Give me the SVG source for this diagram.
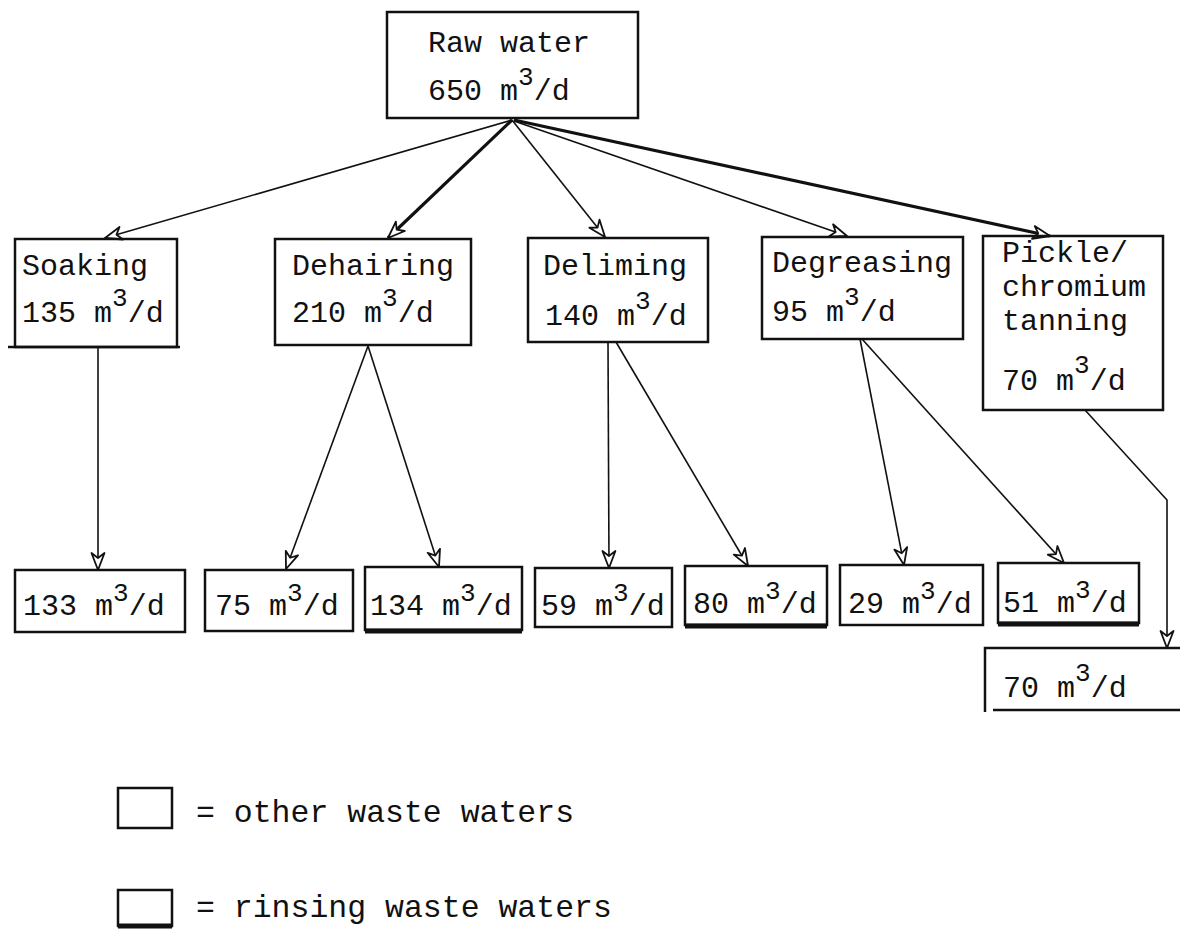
<svg xmlns="http://www.w3.org/2000/svg" width="1180" height="930" viewBox="0 0 1180 930">
<style>
.t{font-family:"Liberation Mono","DejaVu Sans Mono",monospace;font-size:30px;fill:#111}
.s{font-size:26px}
.lg{font-size:31.5px}
.box{fill:none;stroke:#111;stroke-width:2.5}
.c{fill:none;stroke:#111;stroke-width:1.6}
.ck{stroke-width:3.2}
.rb{fill:none;stroke:#111;stroke-width:5}
</style>
<defs>
<marker id="a" markerUnits="userSpaceOnUse" markerWidth="22" markerHeight="18" refX="19" refY="9" orient="auto">
<path d="M2,2.5 L19,9 L2,15.5 L7,9 z" fill="#fff" stroke="#111" stroke-width="1.8" stroke-linejoin="round"/>
</marker>
</defs>
<rect width="1180" height="930" fill="#fff"/>

<g id="connectors">
<line class="c" x1="512" y1="120" x2="105" y2="238" marker-end="url(#a)"/>
<line class="c ck" x1="512" y1="120" x2="388" y2="238" marker-end="url(#a)"/>
<line class="c" x1="512" y1="120" x2="605" y2="237" marker-end="url(#a)"/>
<line class="c" x1="514" y1="121" x2="847" y2="236" marker-end="url(#a)"/>
<line class="c ck" x1="514" y1="120" x2="1050" y2="236" marker-end="url(#a)"/>
<line class="c" x1="98" y1="347" x2="98" y2="570" marker-end="url(#a)"/>
<line class="c" x1="368" y1="346" x2="286" y2="569" marker-end="url(#a)"/>
<line class="c" x1="368" y1="346" x2="439" y2="567" marker-end="url(#a)"/>
<line class="c" x1="608" y1="342" x2="609" y2="568" marker-end="url(#a)"/>
<line class="c" x1="616" y1="342" x2="748" y2="566" marker-end="url(#a)"/>
<line class="c" x1="860" y1="339" x2="904" y2="565" marker-end="url(#a)"/>
<line class="c" x1="862" y1="339" x2="1064" y2="563" marker-end="url(#a)"/>
<polyline class="c" points="1085,410 1167,500 1167,648" marker-end="url(#a)"/>
</g>

<g id="raw-water">
<rect class="box" x="387" y="12" width="251" height="106"/>
<text class="t" x="428" y="52">Raw water</text>
<text class="t" x="428" y="100">650 m<tspan class="s" dy="-15">3</tspan><tspan dy="15">/d</tspan></text>
</g>

<g id="soaking">
<rect class="box" x="15" y="239" width="162" height="108"/>
<line class="box" x1="8" y1="347" x2="180" y2="347"/>
<text class="t" x="22" y="275">Soaking</text>
<text class="t" x="22" y="322">135 m<tspan class="s" dy="-16">3</tspan><tspan dy="16">/d</tspan></text>
</g>

<g id="dehairing">
<rect class="box" x="275" y="239" width="196" height="106"/>
<text class="t" x="292" y="275">Dehairing</text>
<text class="t" x="292" y="322">210 m<tspan class="s" dy="-16">3</tspan><tspan dy="16">/d</tspan></text>
</g>

<g id="deliming">
<rect class="box" x="528" y="238" width="180" height="104"/>
<text class="t" x="543" y="275">Deliming</text>
<text class="t" x="545" y="325">140 m<tspan class="s" dy="-16">3</tspan><tspan dy="16">/d</tspan></text>
</g>

<g id="degreasing">
<rect class="box" x="762" y="237" width="201" height="102"/>
<text class="t" x="772" y="272">Degreasing</text>
<text class="t" x="772" y="321">95 m<tspan class="s" dy="-16">3</tspan><tspan dy="16">/d</tspan></text>
</g>

<g id="pickle">
<rect class="box" x="983" y="236" width="180" height="174"/>
<text class="t" x="1002" y="262">Pickle/</text>
<text class="t" x="1002" y="296">chromium</text>
<text class="t" x="1002" y="330">tanning</text>
<text class="t" x="1002" y="390">70 m<tspan class="s" dy="-17">3</tspan><tspan dy="17">/d</tspan></text>
</g>

<g id="out-133">
<rect class="box" x="15" y="570" width="170" height="62"/>
<text class="t" x="23" y="615">133 m<tspan class="s" dy="-14">3</tspan><tspan dy="14">/d</tspan></text>
</g>
<g id="out-75">
<rect class="box" x="205" y="570" width="148" height="61"/>
<text class="t" x="215" y="615">75 m<tspan class="s" dy="-14">3</tspan><tspan dy="14">/d</tspan></text>
</g>
<g id="out-134">
<rect class="box" x="365" y="567" width="157" height="63"/>
<line class="rb" x1="365" y1="631" x2="522" y2="631"/>
<text class="t" x="370" y="615">134 m<tspan class="s" dy="-14">3</tspan><tspan dy="14">/d</tspan></text>
</g>
<g id="out-59">
<rect class="box" x="535" y="568" width="137" height="59"/>
<text class="t" x="541" y="615">59 m<tspan class="s" dy="-14">3</tspan><tspan dy="14">/d</tspan></text>
</g>
<g id="out-80">
<rect class="box" x="685" y="566" width="142" height="59"/>
<line class="rb" x1="685" y1="626" x2="827" y2="626"/>
<text class="t" x="693" y="613">80 m<tspan class="s" dy="-14">3</tspan><tspan dy="14">/d</tspan></text>
</g>
<g id="out-29">
<rect class="box" x="840" y="565" width="143" height="60"/>
<text class="t" x="848" y="613">29 m<tspan class="s" dy="-14">3</tspan><tspan dy="14">/d</tspan></text>
</g>
<g id="out-51">
<rect class="box" x="998" y="563" width="141" height="60"/>
<line class="rb" x1="998" y1="624" x2="1139" y2="624"/>
<text class="t" x="1003" y="612">51 m<tspan class="s" dy="-14">3</tspan><tspan dy="14">/d</tspan></text>
</g>
<g id="out-70">
<path class="box" d="M1180,648 H985 V712 M993,710 H1180"/>
<text class="t" x="1003" y="697">70 m<tspan class="s" dy="-16">3</tspan><tspan dy="16">/d</tspan></text>
</g>

<g id="legend-other">
<rect class="box" x="118" y="788" width="54" height="40"/>
<text class="t lg" x="196" y="822">= other waste waters</text>
</g>
<g id="legend-rinsing">
<rect class="box" x="118" y="890" width="54" height="36"/>
<line class="rb" x1="118" y1="926" x2="172" y2="926"/>
<text class="t lg" x="196" y="917">= rinsing waste waters</text>
</g>
</svg>
